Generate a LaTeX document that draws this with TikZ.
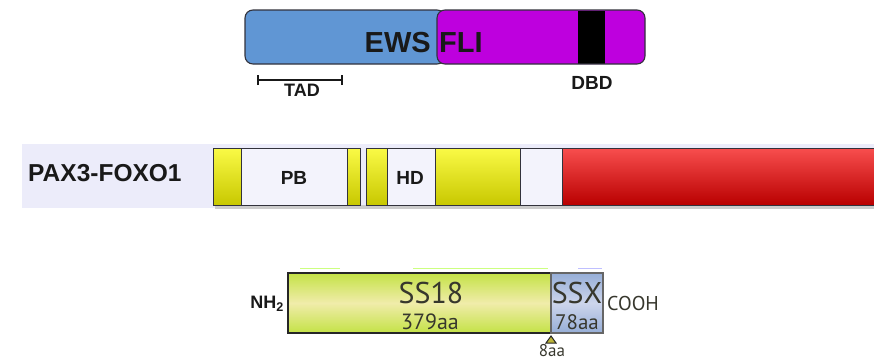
\documentclass[tikz,border=0pt]{standalone}
\usepackage{fontspec}
\setmainfont{Liberation Sans}
\newfontfamily\ptsans{PT Sans}
\begin{document}
\begin{tikzpicture}[x=1pt,y=-1pt]
\definecolor{ewsblue}{RGB}{96,150,212}
\definecolor{flimag}{RGB}{190,0,222}
\definecolor{outl}{RGB}{50,50,60}
\definecolor{band}{RGB}{236,236,250}
\definecolor{whiteseg}{RGB}{243,243,252}
\definecolor{yelT}{RGB}{250,250,70}
\definecolor{yelB}{RGB}{200,200,0}
\definecolor{redT}{RGB}{248,78,78}
\definecolor{redB}{RGB}{185,0,0}
\definecolor{ssgreen}{RGB}{196,226,70}
\definecolor{sspale}{RGB}{240,236,170}
\definecolor{ssxT}{RGB}{150,174,215}
\definecolor{ssxM}{RGB}{205,213,236}
\definecolor{txt}{RGB}{25,25,25}
\definecolor{txtb}{RGB}{55,55,45}
\tikzset{
  boldlbl/.style={font=\bfseries, text=txt, inner sep=0pt},
  seg/.style={draw=outl, line width=0.9pt},
  yseg/.style={seg, top color=yelT, bottom color=yelB},
  wseg/.style={seg, fill=whiteseg},
  rseg/.style={seg, top color=redT, bottom color=redB},
  ptlbl/.style={font=\ptsans, text=txtb, inner sep=0pt},
}
\useasboundingbox (0,0) rectangle (874,362);
% ---------- EWS-FLI ----------
\fill[ewsblue, rounded corners=8] (245,10) rectangle (445,64);
\draw[outl, line width=1.1pt, rounded corners=8] (245,10) rectangle (445,64);
\fill[flimag, rounded corners=8] (437,10) rectangle (645,64);
\fill[black] (578,10.5) rectangle (605,63.5);
\draw[outl, line width=1.1pt, rounded corners=8] (437,10) rectangle (645,64);
\node[boldlbl, font=\fontsize{29}{30}\bfseries, anchor=east] (ews) at (431,43) {EWS};
\node[boldlbl, font=\fontsize{29}{30}\bfseries, anchor=west] (fli) at (439,43) {FLI};
\coordinate (tadl) at (258,80);
\coordinate (tadr) at (342,80);
\draw[txt, line width=1.6pt] (tadl) -- (tadr);
\draw[txt, line width=1.6pt] ([yshift=-5]tadl) -- ([yshift=5]tadl);
\draw[txt, line width=1.6pt] ([yshift=-5]tadr) -- ([yshift=5]tadr);
\node[boldlbl, font=\fontsize{18}{19}\bfseries] (tad) at (302,90) {TAD};
\node[boldlbl, font=\fontsize{19}{20}\bfseries] (dbd) at (592,83) {DBD};
% ---------- PAX3-FOXO1 ----------
\fill[band] (22,144) rectangle (874,208);
\fill[black!20] (215,205) rectangle (874,208.5);
\node[boldlbl, font=\fontsize{24.5}{25}\bfseries, anchor=west] (pax) at (28,173) {PAX3-FOXO1};
\draw[yseg] (213,148) rectangle (241,205);
\draw[wseg] (241,148) rectangle (347,205);
\draw[yseg] (347,148) rectangle (360,205);
\draw[yseg] (366,148) rectangle (387,205);
\draw[wseg] (387,148) rectangle (435,205);
\draw[yseg] (435,148) rectangle (520,205);
\draw[wseg] (520,148) rectangle (562,205);
\draw[rseg] (562,148) rectangle (874,205);
\node[boldlbl, font=\fontsize{19}{20}\bfseries] (pb) at (294,178) {PB};
\node[boldlbl, font=\fontsize{19}{20}\bfseries] (hd) at (410,178) {HD};
% ---------- SS18-SSX ----------
\draw[green!40!yellow!50, line width=0.8pt] (300,268) -- (340,268);
\draw[green!40!yellow!50, line width=0.8pt] (413,268) -- (548,268);
\draw[blue!25, line width=0.8pt] (578,268) -- (602,268);
\shade[top color=ssgreen, bottom color=ssgreen, middle color=sspale] (288,273) rectangle (551,333);
\shade[top color=ssxT, bottom color=ssxT, middle color=ssxM] (551,273) rectangle (603,333);
\draw[outl, line width=1.2pt] (551,273) -- (551,333);
\draw[black!85, line width=2.6pt] (288,273) rectangle (551,333);
\draw[black!60, line width=2pt] (551,273) rectangle (603,333);
\node[ptlbl, font=\ptsans\fontsize{30}{31}\selectfont] (ss18) at (431,293) {SS18};
\node[ptlbl, font=\ptsans\fontsize{22}{23}\selectfont] (aa379) at (430,322) {379aa};
\node[ptlbl, font=\ptsans\fontsize{30}{31}\selectfont] (ssx) at (577,293) {SSX};
\node[ptlbl, font=\ptsans\fontsize{21}{22}\selectfont] (aa78) at (577,322) {78aa};
\node[ptlbl, font=\ptsans\fontsize{20}{21}\selectfont, anchor=west] (cooh) at (607,303) {COOH};
\node[boldlbl, font=\fontsize{18}{19}\bfseries, anchor=east] (nh2) at (284,304) {NH\textsubscript{2}};
\coordinate (tri) at (551,336);
\fill[yellow!70!black, draw=black!85, line width=1pt] (tri) -- ++(5,7) -- ++(-10,0) -- cycle;
\node[ptlbl, font=\ptsans\fontsize{17}{18}\selectfont, anchor=north] (aa8) at (552,344) {8aa};
\end{tikzpicture}
\end{document}
